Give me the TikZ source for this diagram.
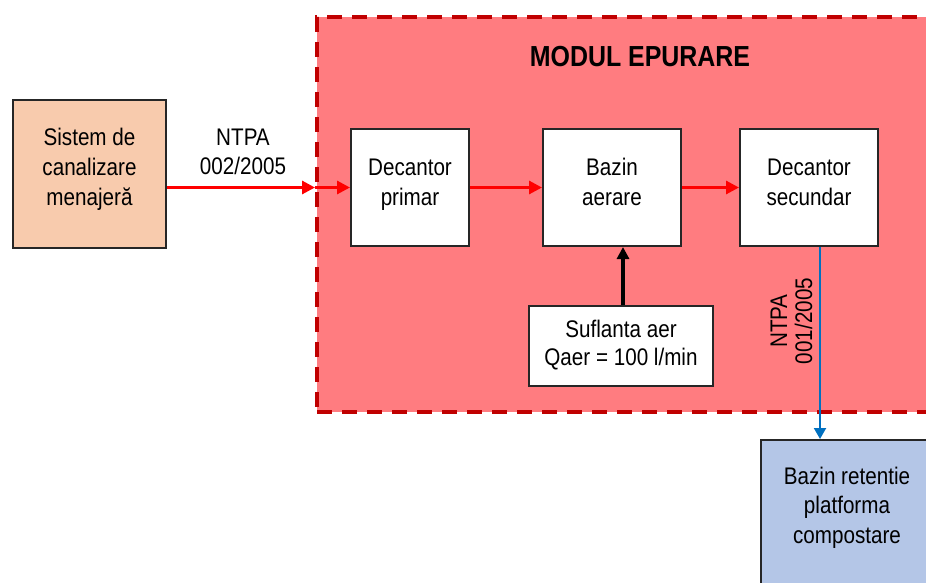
\documentclass[tikz,border=0pt]{standalone}
\usepackage{fontspec}
\setmainfont{Liberation Sans}[FakeStretch=0.86]
\usetikzlibrary{arrows.meta}

\definecolor{modfill}{HTML}{FF7C80}
\definecolor{modline}{HTML}{C00000}
\definecolor{peach}{HTML}{F8CBAD}
\definecolor{lightblue}{HTML}{B4C6E7}
\definecolor{flowblue}{HTML}{0070C0}
\definecolor{boxline}{HTML}{262626}

% text nodes are placed by the baseline of their last line
\tikzset{
  txt/.style={font=\fontsize{24}{30}\selectfont, align=center, anchor=base, inner sep=0pt},
  stagebox/.style={draw=boxline, line width=2pt, fill=white, inner sep=0pt},
  modbox/.style={draw=modline, fill=modfill, line width=4pt, dash pattern=on 15pt off 10pt, inner sep=0pt},
  redflow/.style={draw=red, line width=3pt, -{Triangle[length=13pt,width=13pt]}},
  airflow/.style={draw=black, line width=3.5pt, -{Triangle[length=12pt,width=12pt]}},
  blueflow/.style={draw=flowblue, line width=2pt, -{Triangle[length=11pt,width=12pt]}},
}

\begin{document}
\begin{tikzpicture}[x=1pt, y=-1pt]
  \useasboundingbox (0,0) rectangle (926,582);
  \clip (0,0) rectangle (926,582);

  % treatment module area
  \node[modbox, anchor=north west, minimum width=640pt, minimum height=395pt] (modul) at (315,15) {};
  \node[font=\fontsize{29}{32}\selectfont\bfseries, anchor=base, inner sep=0pt] (title) at (640,66) {MODUL EPURARE};

  % process units
  \node[stagebox, fill=peach, minimum width=153pt, minimum height=148pt] (sistem) at (89.5,174) {};
  \node[stagebox, minimum width=118pt, minimum height=117pt] (decp) at (410,187.5) {};
  \node[stagebox, minimum width=138pt, minimum height=117pt] (bazin) at (612,187.5) {};
  \node[stagebox, minimum width=138pt, minimum height=117pt] (decs) at (809,187.5) {};
  \node[stagebox, minimum width=184pt, minimum height=80pt] (sufl) at (621,346) {};
  \node[stagebox, fill=lightblue, anchor=north west, minimum width=174pt, minimum height=170pt] (ret) at (760,439) {};

  % unit labels
  \node[txt] (sistemtext) at (89.5,205) {Sistem de\\canalizare\\menajeră};
  \node[txt] (decptext) at (410,205) {Decantor\\primar};
  \node[txt] (bazintext) at (612,205) {Bazin\\aerare};
  \node[txt] (decstext) at (809,205) {Decantor\\secundar};
  \node[txt, font=\fontsize{24}{28}\selectfont] (sufltext) at (621,365) {Suflanta aer\\Qaer = 100 l/min};
  \node[txt, font=\fontsize{24}{29.5}\selectfont] (rettext) at (847,543) {Bazin retentie\\platforma\\compostare};

  % flows
  \draw[redflow] (sistem.east |- decp.west) -- (decp.west -| modul.west);
  \draw[redflow] (decp.west -| modul.west) -- (decp.west);
  \draw[redflow] (decp.east) -- (bazin.west);
  \draw[redflow] (bazin.east) -- (decs.west);
  \draw[airflow] ([xshift=2pt]sufl.north) -- ([xshift=2pt]sufl.north |- bazin.south);
  \draw[blueflow] ([xshift=11pt]decs.south) -- ([xshift=11pt]decs.south |- ret.north);

  % flow labels
  \node[txt, font=\fontsize{24}{29}\selectfont] (lblin) at (243,174) {NTPA\\002/2005};
  \node[txt, font=\fontsize{24}{25}\selectfont, rotate=90] (lblout) at (812,321) {NTPA\\001/2005};
\end{tikzpicture}
\end{document}
